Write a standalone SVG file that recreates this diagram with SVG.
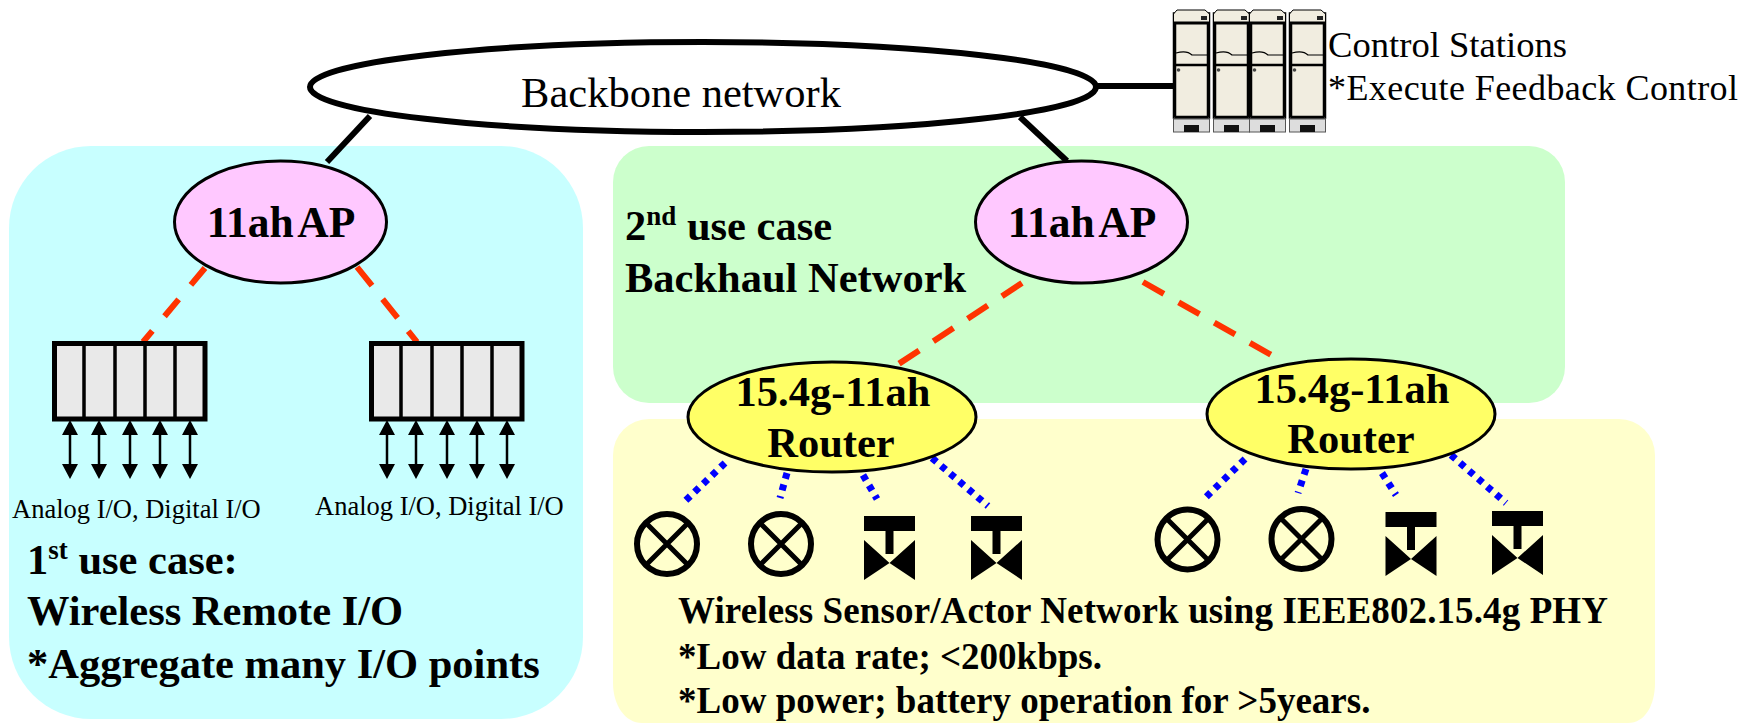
<svg xmlns="http://www.w3.org/2000/svg" width="1754" height="723" viewBox="0 0 1754 723">
<style>
text{font-family:"Liberation Serif","Times New Roman",serif;fill:#000}
.b{font-weight:bold}
.t42{font-size:42.500px}.t37{font-size:37px}.t36{font-size:36px}.t26{font-size:26.500px}
.apt{font-size:43.500px;font-weight:bold;word-spacing:-5px}
.sol{stroke:#000;stroke-width:6;fill:none}
.red{stroke:#ff3300;stroke-width:6;fill:none;stroke-dasharray:24 17}
.blue{stroke:#0000ff;stroke-width:7;fill:none;stroke-dasharray:6 6}
.io{stroke:#000;stroke-width:2.500;fill:none;marker-start:url(#ah);marker-end:url(#ah)}
.ap{fill:#ffc8ff;stroke:#000;stroke-width:3}
.rt{fill:#ffff66;stroke:#000;stroke-width:3}
.cab{fill:#f1ede0;stroke:#000;stroke-width:1.500}
</style>
<defs>
<marker id="ah" viewBox="0 0 15 16" refX="0" refY="8" markerUnits="userSpaceOnUse" markerWidth="15" markerHeight="16" orient="auto-start-reverse"><path d="M0 0L15 8L0 16Z" fill="#000"/></marker>
<g id="iomod">
<rect x="2.500" y="2.500" width="150.500" height="75.500" fill="#e9e9e9" stroke="#000" stroke-width="5"/>
<path d="M32 2V78M63 2V78M93 2V78M123 2V78" stroke="#000" stroke-width="3.500" fill="none"/>
<path class="io" d="M18 94V123"/><path class="io" d="M47 94V123"/><path class="io" d="M78 94V123"/><path class="io" d="M108 94V123"/><path class="io" d="M138 94V123"/>
</g>
<g id="meter">
<circle cx="0" cy="0" r="30" fill="none" stroke="#000" stroke-width="6"/>
<path d="M-21 -21L21 21M21 -21L-21 21" stroke="#000" stroke-width="5" fill="none"/>
</g>
<g id="valve">
<rect x="-25.500" y="-28" width="51" height="15" fill="#000"/>
<rect x="-4" y="-13" width="8" height="23" fill="#000"/>
<path d="M-25.500 -4L0 19L25.500 -4V36L0 19L-25.500 36Z" fill="#000"/>
</g>
<g id="cabinet">
<rect class="cab" x="0.500" y="3" width="36" height="105"/>
<path d="M0.500 4L4 0H32L36.500 4V13H0.500Z" fill="#f1ede0" stroke="#000" stroke-width="1"/>
<path d="M0.500 13H36.500" stroke="#000" stroke-width="3"/>
<path d="M2 13V107M35 13V107M2 55H35M2 107H35" stroke="#000" stroke-width="2.500" fill="none"/>
<path d="M3 43C10 41 15 41 19 45H34" stroke="#000" stroke-width="1.200" fill="none"/>
<circle cx="5.500" cy="60" r="1.800" fill="#444"/>
<rect x="28" y="6" width="6" height="4" fill="#222"/>
<rect x="0.500" y="109" width="36" height="13" fill="#ddd" stroke="#555" stroke-width="1"/>
<rect x="11" y="115" width="15" height="7" fill="#111"/>
</g>
</defs>

<rect width="1754" height="723" fill="#fff"/>

<g id="panels">
<rect x="9" y="146" width="574" height="573" rx="82" fill="#c8ffff"/>
<rect x="613" y="146" width="952" height="257" rx="36" fill="#ccffcc"/>
<path d="M649 419H1619A36 36 0 0 1 1655 455V683C1655 705 1645 723 1628 723H642C625 723 613 705 613 683V455A36 36 0 0 1 649 419Z" fill="#ffffcc"/>
</g>

<g id="connectors">
<path class="sol" d="M1098 86H1173"/>
<path class="sol" d="M370 116L327 162"/>
<path class="sol" d="M1020 117L1067 161"/>
<path class="red" d="M205 268L143 342" style="stroke-dasharray:22 19"/>
<path class="red" d="M357 267L417 342"/>
<path class="red" d="M1022 283L897 365"/>
<path class="red" d="M1143 282L1273 356"/>
<path class="blue" d="M725 463L683 503"/>
<path class="blue" d="M787 473L780 498"/>
<path class="blue" d="M863 475L877 499"/>
<path class="blue" d="M932 458L988 506"/>
<path class="blue" d="M1245 459L1203 500"/>
<path class="blue" d="M1306 469L1298 493"/>
<path class="blue" d="M1382 473L1396 495"/>
<path class="blue" d="M1451 455L1506 503"/>
</g>

<g id="backbone">
<ellipse cx="703" cy="87" rx="393" ry="45" fill="#fff" stroke="#000" stroke-width="6"/>
<text class="t42" x="681" y="107" text-anchor="middle">Backbone network</text>
</g>

<g id="control-stations">
<use href="#cabinet" x="1173" y="10"/>
<use href="#cabinet" x="1213" y="10"/>
<use href="#cabinet" x="1249" y="10"/>
<use href="#cabinet" x="1289" y="10"/>
<text class="t36" x="1328" y="57" textLength="239" lengthAdjust="spacingAndGlyphs">Control Stations</text>
<text class="t36" x="1328" y="100" textLength="410" lengthAdjust="spacing">*Execute Feedback Control</text>
</g>

<g id="ap-left">
<ellipse class="ap" cx="280.500" cy="222" rx="106" ry="61"/>
<text class="apt" x="281" y="237" text-anchor="middle">11ah AP</text>
</g>
<g id="ap-right">
<ellipse class="ap" cx="1081.500" cy="222" rx="106" ry="61"/>
<text class="apt" x="1082" y="237" text-anchor="middle">11ah AP</text>
</g>

<g id="router-left">
<ellipse class="rt" cx="832" cy="417" rx="144" ry="55"/>
<text class="b t42" x="833" y="406" text-anchor="middle">15.4g-11ah</text>
<text class="b t42" x="831" y="457" text-anchor="middle">Router</text>
</g>
<g id="router-right">
<ellipse class="rt" cx="1351" cy="414" rx="144" ry="55"/>
<text class="b t42" x="1352" y="403" text-anchor="middle">15.4g-11ah</text>
<text class="b t42" x="1351" y="453" text-anchor="middle">Router</text>
</g>

<g id="io-left">
<use href="#iomod" x="52" y="341"/>
<text class="t26" x="12" y="518">Analog I/O, Digital I/O</text>
</g>
<g id="io-right">
<use href="#iomod" x="369" y="341"/>
<text class="t26" x="315" y="515">Analog I/O, Digital I/O</text>
</g>

<g id="meter-1"><use href="#meter" x="667" y="544"/></g>
<g id="meter-2"><use href="#meter" x="781" y="544"/></g>
<g id="valve-1"><use href="#valve" x="889.500" y="544"/></g>
<g id="valve-2"><use href="#valve" x="996.500" y="544"/></g>
<g id="meter-3"><use href="#meter" x="1187.500" y="539.500"/></g>
<g id="meter-4"><use href="#meter" x="1301.500" y="539"/></g>
<g id="valve-3"><use href="#valve" x="1411" y="540"/></g>
<g id="valve-4"><use href="#valve" x="1517.500" y="539"/></g>

<g id="label-use1">
<text class="b t42" x="27" y="574">1<tspan font-size="27" dy="-15">st</tspan><tspan dy="15"> use case:</tspan></text>
<text class="b t42" x="27" y="625">Wireless Remote I/O</text>
<text class="b t42" x="27" y="678">*Aggregate many I/O points</text>
</g>
<g id="label-use2">
<text class="b t42" x="625" y="240">2<tspan font-size="27" dy="-15">nd</tspan><tspan dy="15"> use case</tspan></text>
<text class="b t42" x="625" y="292">Backhaul Network</text>
</g>
<g id="label-wsan">
<text class="b t37" x="678" y="623" textLength="930" lengthAdjust="spacing">Wireless Sensor/Actor Network using IEEE802.15.4g PHY</text>
<text class="b t37" x="678" y="669">*Low data rate; &lt;200kbps.</text>
<text class="b t37" x="678" y="713">*Low power; battery operation for &gt;5years.</text>
</g>
</svg>
